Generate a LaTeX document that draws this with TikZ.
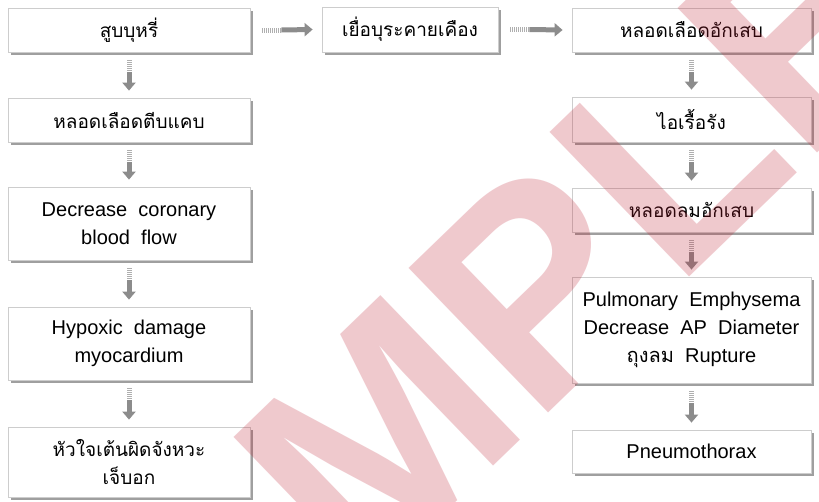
\documentclass[tikz,border=0pt]{standalone}
\usepackage{fontspec}
\setmainfont{Liberation Sans}
\newfontfamily\thai[Script=Thai]{Loma}
\usetikzlibrary{arrows.meta,shadows,calc}
\definecolor{boxline}{RGB}{205,205,205}
\definecolor{arrowgray}{RGB}{140,140,140}
\definecolor{tailgray}{RGB}{175,175,175}
\definecolor{wmred}{RGB}{190,30,50}
\newcommand\downlink[2]{%
  \draw[tailpart] ($(#1.south)+(0,8)$) -- ($(#1.south)+(0,20)$);
  \draw[shaftpart] ($(#1.south)+(0,20)$) -- ($(#2.north)+(0,-7)$);}
\newcommand\rightlink[2]{%
  \draw[tailpart] ($(#1.east)+(12,0)$) -- ($(#1.east)+(31,0)$);
  \draw[shaftpart] ($(#1.east)+(31,0)$) -- ($(#2.west)+(-9,0)$);}
\begin{document}
\begin{tikzpicture}[x=1pt,y=-1pt,
  box/.style={draw=boxline, line width=0.8pt, fill=white, inner sep=0pt,
    align=center, font=\fontsize{20}{28}\selectfont,
    drop shadow={shadow xshift=2.5pt, shadow yshift=-2.5pt, opacity=0.5, fill=black!75}},
  thaitext/.style={font=\thai\fontsize{19}{28}\selectfont},
  shaftpart/.style={draw=arrowgray, line width=5pt, -{Triangle[width=13pt,length=8pt]}},
  tailpart/.style={draw=tailgray, line width=5pt, dash pattern=on 1pt off 1pt},
  watermark/.style={rotate=44, inner sep=0pt, text=wmred, opacity=0.24, text opacity=0.24,
    font=\fontsize{292}{292}\selectfont\bfseries}
]
\useasboundingbox (0,0) rectangle (819,501);
\clip (0,0) rectangle (819,501);
\fill[white] (0,0) rectangle (819,501);

% left column
\node[box, thaitext, minimum width=242pt, minimum height=44pt] (l1) at (129,30) {สูบบุหรี่};
\node[box, thaitext, minimum width=242pt, minimum height=44pt] (l2) at (129,120) {หลอดเลือดตีบแคบ};
\node[box, minimum width=242pt, minimum height=73pt] (l3) at (129,223.5) {Decrease\ \ coronary\\blood\ \ flow};
\node[box, minimum width=242pt, minimum height=73pt] (l4) at (129,343.5) {Hypoxic\ \ damage\\myocardium};
\node[box, thaitext, minimum width=242pt, minimum height=70pt] (l5) at (129,462) {หัวใจเต้นผิดจังหวะ\\เจ็บอก};

% middle
\node[box, thaitext, minimum width=176pt, minimum height=45pt] (m1) at (410,29.5) {เยื่อบุระคายเคือง};

% right column
\node[box, thaitext, minimum width=239pt, minimum height=44pt] (r1) at (691.5,30) {หลอดเลือดอักเสบ};
\node[box, thaitext, minimum width=239pt, minimum height=45pt] (r2) at (691.5,119.5) {ไอเรื้อรัง};
\node[box, thaitext, minimum width=239pt, minimum height=44pt] (r3) at (691.5,210) {หลอดลมอักเสบ};
\node[box, minimum width=239pt, minimum height=106pt] (r4) at (691.5,330) {Pulmonary\ \ Emphysema\\Decrease\ \ AP\ \ Diameter\\{\thai ถุงลม}\ \ Rupture};
\node[box, minimum width=239pt, minimum height=43pt] (r5) at (691.5,451.5) {Pneumothorax};

% connectors
\downlink{l1}{l2}
\downlink{l2}{l3}
\downlink{l3}{l4}
\downlink{l4}{l5}
\rightlink{l1}{m1}
\rightlink{m1}{r1}
\downlink{r1}{r2}
\downlink{r2}{r3}
\downlink{r3}{r4}
\downlink{r4}{r5}

% watermark
\node[watermark] (wm) at (436,382) {SAMPLE};
\end{tikzpicture}
\end{document}
